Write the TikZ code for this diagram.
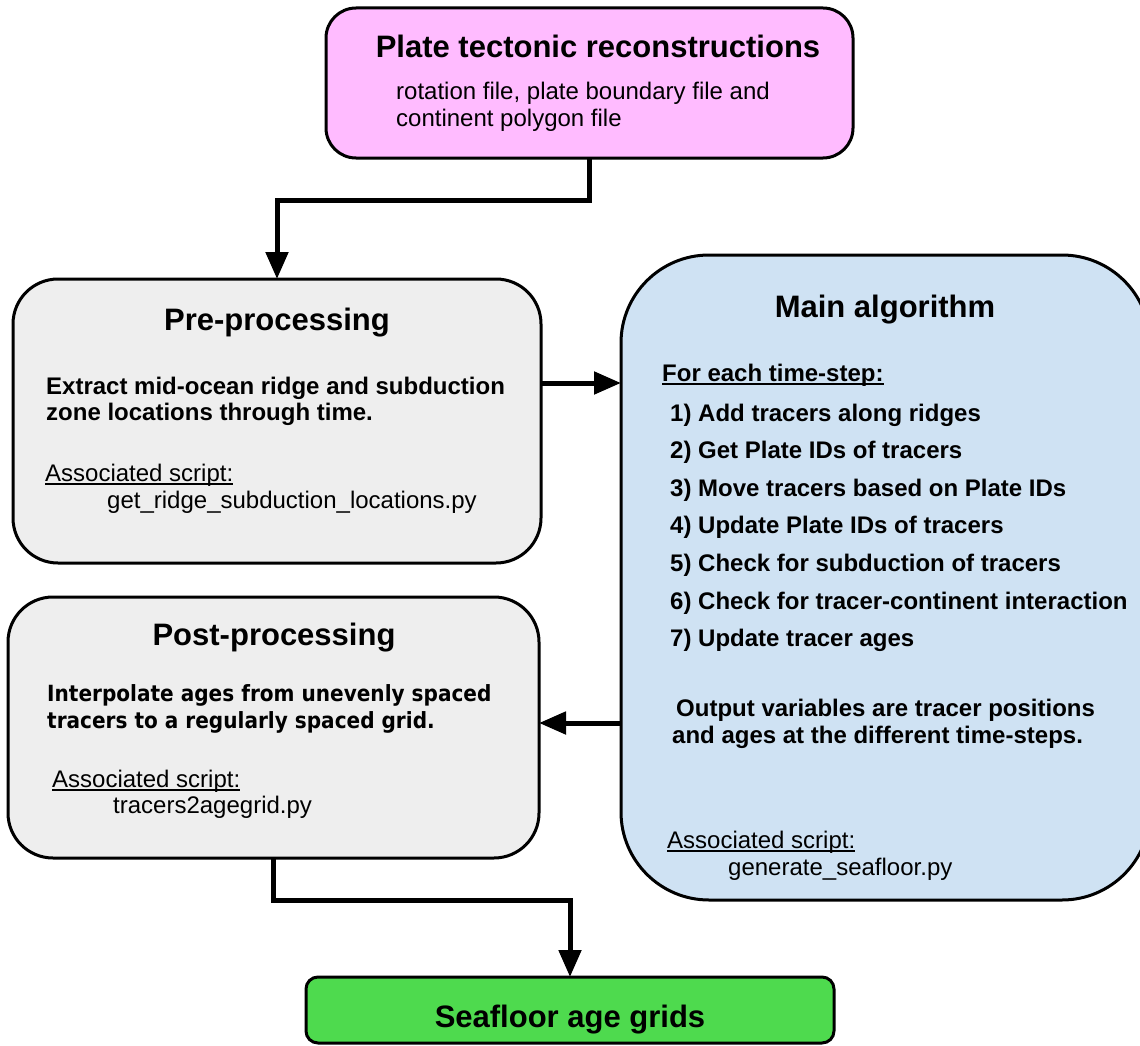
\documentclass[tikz,border=0pt]{standalone}
\usepackage{fontspec}
\setmainfont{Liberation Sans}
\newfontfamily\dvfont[FakeStretch=0.9]{DejaVu Sans}
\usetikzlibrary{arrows.meta}
\definecolor{pinkc}{RGB}{255,187,255}
\definecolor{grayc}{RGB}{238,238,238}
\definecolor{bluec}{RGB}{207,226,243}
\definecolor{greenc}{RGB}{78,218,78}
\begin{document}
\begin{tikzpicture}[x=1pt,y=-1pt,
  box/.style={draw=black, line width=3pt, inner sep=0pt, outer sep=0pt},
  conn/.style={line width=5pt, -{Triangle[length=27pt,width=22pt]}},
  ttl/.style={anchor=base, inner sep=0pt, font=\fontsize{31}{37}\selectfont\bfseries},
  bb/.style={anchor=base west, inner sep=0pt, font=\fontsize{24}{27}\selectfont\bfseries},
  rr/.style={anchor=base west, inner sep=0pt, font=\fontsize{24}{27}\selectfont},
  dv/.style={anchor=base west, inner sep=0pt, font=\fontsize{22.3}{27}\selectfont\dvfont\bfseries},
  ul/.style={line width=1.4pt}
]
\useasboundingbox (0,0) rectangle (1140,1046);
\clip (0,0) rectangle (1140,1046);

% boxes
\node[box, fill=pinkc, rounded corners=30pt, minimum width=527pt, minimum height=150pt] (top) at (589.5,83) {};
\node[box, fill=grayc, rounded corners=45pt, minimum width=528pt, minimum height=284pt] (pre) at (277,421) {};
\node[box, fill=bluec, rounded corners=88pt, minimum width=529pt, minimum height=645pt] (main) at (885.5,577.5) {};
\node[box, fill=grayc, rounded corners=45pt, minimum width=531pt, minimum height=261pt] (post) at (273.5,727.5) {};
\node[box, fill=greenc, rounded corners=12pt, minimum width=528pt, minimum height=66pt] (sea) at (570,1010) {};

% top box text
\node[ttl] (topt) at (598,58) {Plate tectonic reconstructions};
\node[rr] (top1) at (396,100) {rotation file, plate boundary file and};
\node[rr] (top2) at (396,127) {continent polygon file};

% pre text
\node[ttl] (pret) at (277,330) {Pre-processing};
\node[bb] (pre1) at (46,394) {Extract mid-ocean ridge and subduction};
\node[bb] (pre2) at (46,420) {zone locations through time.};
\node[rr] (preas) at (45,481) {Associated script:};
\draw[ul] ([yshift=-3pt]preas.base west) -- ([yshift=-3pt]preas.base east);
\node[rr] (pres) at (107,508) {get\_ridge\_subduction\_locations.py};

% main text
\node[ttl] (maint) at (885,317) {Main algorithm};
\node[bb] (mfor) at (662,381) {For each time-step:};
\draw[ul] ([yshift=-3pt]mfor.base west) -- ([yshift=-3pt]mfor.base east);
\node[bb] (m1) at (670,421) {1) Add tracers along ridges};
\node[bb] (m2) at (670,458.6) {2) Get Plate IDs of tracers};
\node[bb] (m3) at (670,496.2) {3) Move tracers based on Plate IDs};
\node[bb] (m4) at (670,533.8) {4) Update Plate IDs of tracers};
\node[bb] (m5) at (670,571.4) {5) Check for subduction of tracers};
\node[bb] (m6) at (670,609) {6) Check for tracer-continent interaction};
\node[bb] (m7) at (670,646.6) {7) Update tracer ages};
\node[bb] (mo1) at (676,716) {Output variables are tracer positions};
\node[bb] (mo2) at (672,743) {and ages at the different time-steps.};
\node[rr] (mas) at (667,848) {Associated script:};
\draw[ul] ([yshift=-3pt]mas.base west) -- ([yshift=-3pt]mas.base east);
\node[rr] (ms) at (728,875) {generate\_seafloor.py};

% post text
\node[ttl] (postt) at (274,645) {Post-processing};
\node[dv] (post1) at (47,701) {Interpolate ages from unevenly spaced};
\node[dv] (post2) at (47,728) {tracers to a regularly spaced grid.};
\node[rr] (postas) at (52,787) {Associated script:};
\draw[ul] ([yshift=-3pt]postas.base west) -- ([yshift=-3pt]postas.base east);
\node[rr] (posts) at (113,813) {tracers2agegrid.py};

% sea text
\node[ttl] (seat) at (570,1027) {Seafloor age grids};

% connectors
\draw[conn] (top.south) -- ++(0,42) -| (pre.north);
\coordinate (p1) at ([yshift=38pt]pre.east);
\draw[conn] (p1) -- (p1 -| main.west);
\coordinate (p2) at ([yshift=4.5pt]post.east);
\draw[conn] (p2 -| main.west) -- (p2);
\draw[conn] (post.south) -- ++(0,42) -| (sea.north);
\end{tikzpicture}
\end{document}
